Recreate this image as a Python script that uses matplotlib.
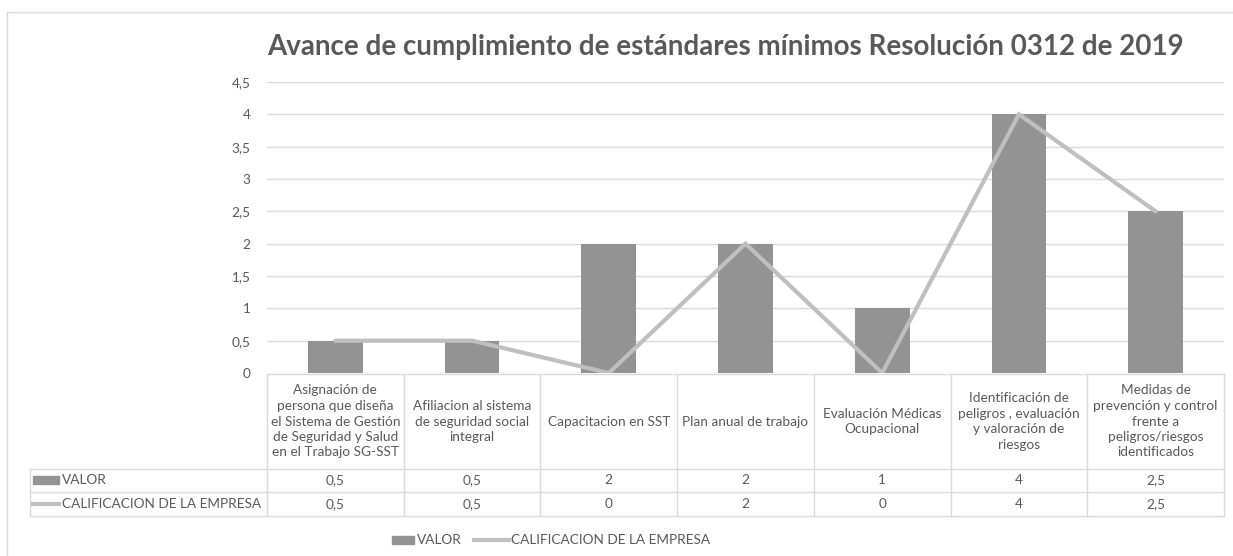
import numpy as np
import matplotlib.pyplot as plt
from matplotlib.lines import Line2D
from matplotlib.patches import Rectangle
from matplotlib.transforms import blended_transform_factory

plt.rcParams['font.family'] = ['Lato', 'DejaVu Sans']

# data
categorias = ["Asignación de\npersona que diseña\nel Sistema de Gestión\nde Seguridad y Salud\nen el Trabajo SG-SST",
              "Afiliacion al sistema\nde seguridad social\nintegral",
              "Capacitacion en SST",
              "Plan anual de trabajo",
              "Evaluación Médicas\nOcupacional",
              "Identificación de\npeligros , evaluación\ny valoración de\nriesgos",
              "Medidas de\nprevención y control\nfrente a\npeligros/riesgos\nidentificados"]
valor = [0.5, 0.5, 2, 2, 1, 4, 2.5]
calificacion = [0.5, 0.5, 0, 2, 0, 4, 2.5]
yticks = [0, 0.5, 1, 1.5, 2, 2.5, 3, 3.5, 4, 4.5]
serie_barras = "VALOR"
serie_linea = "CALIFICACION DE LA EMPRESA"
titulo = "Avance de cumplimiento de estándares mínimos Resolución 0312 de 2019"

W, H = 1233, 556
txt = '#595959'
gris_bar = '#939393'
gris_lin = '#BFBFBF'
borde = '#D9D9D9'
fs = 9.8

def fx(p):
    return p / W

def fy(p):
    return 1 - p / H

fig = plt.figure(figsize=(W / 100, H / 100), dpi=100)
ax = fig.add_axes([fx(267), fy(373), fx(1224) - fx(267), fy(82) - fy(373)])

x = np.arange(len(valor))
ax.bar(x, valor, width=0.4, color=gris_bar, zorder=2)
ax.plot(x, calificacion, color=gris_lin, lw=3, solid_capstyle='round',
        solid_joinstyle='miter', zorder=3)
ax.set_xlim(-0.5, len(valor) - 0.5)
ax.set_ylim(0, 4.5)
ax.set_yticks(yticks)
ax.set_yticklabels([("%g" % v).replace('.', ',') for v in yticks])
ax.tick_params(axis='y', length=0, pad=12, labelsize=fs, labelcolor=txt)
ax.set_xticks([])
ax.grid(axis='y', color=borde, lw=1, zorder=0)
for s in ax.spines.values():
    s.set_visible(False)

# titulo
fig.text(fx(725), fy(47), titulo, ha='center', va='center', fontsize=20,
         fontweight='bold', color=txt)

# tabla de datos
tr = blended_transform_factory(ax.transData, fig.transFigure)
n = len(valor)
y_top, y_cat, y_r1, y_r2 = 374, 469, 492, 516
kw = dict(color=borde, lw=1)
fig.add_artist(Line2D([fx(267), fx(1224)], [fy(y_top)] * 2, **kw))
for yy in (y_cat, y_r1, y_r2):
    fig.add_artist(Line2D([fx(30), fx(1224)], [fy(yy)] * 2, **kw))
fig.add_artist(Line2D([fx(30), fx(30)], [fy(y_cat), fy(y_r2)], **kw))
for b in np.arange(n + 1) - 0.5:
    fig.add_artist(Line2D([b, b], [fy(y_top), fy(y_r2)], transform=tr, **kw))

for i in range(n):
    fig.text(x[i], fy((y_top + y_cat) / 2), categorias[i], transform=tr,
             ha='center', va='center', fontsize=fs, color=txt, linespacing=1.35)
    fig.text(x[i], fy((y_cat + y_r1) / 2), ("%g" % valor[i]).replace('.', ','),
             transform=tr, ha='center', va='center', fontsize=fs, color=txt)
    fig.text(x[i], fy((y_r1 + y_r2) / 2), ("%g" % calificacion[i]).replace('.', ','),
             transform=tr, ha='center', va='center', fontsize=fs, color=txt)

# claves de la tabla
fig.add_artist(Rectangle((fx(33), fy(484)), fx(26), fy(476) - fy(484), color=gris_bar))
fig.text(fx(62), fy((y_cat + y_r1) / 2), serie_barras, ha='left', va='center',
         fontsize=fs, color=txt)
fig.add_artist(Line2D([fx(33), fx(59)], [fy(504)] * 2, color=gris_lin, lw=3))
fig.text(fx(62), fy((y_r1 + y_r2) / 2), serie_linea, ha='left', va='center',
         fontsize=fs, color=txt)

# leyenda
fig.add_artist(Rectangle((fx(392), fy(544)), fx(22), fy(536) - fy(544), color=gris_bar))
fig.text(fx(417), fy(540), serie_barras, ha='left', va='center', fontsize=fs, color=txt)
fig.add_artist(Line2D([fx(474), fx(509)], [fy(540)] * 2, color=gris_lin, lw=3))
fig.text(fx(511), fy(540), serie_linea, ha='left', va='center', fontsize=fs, color=txt)

# borde del grafico
fig.add_artist(Line2D([fx(7), fx(1233)], [fy(12)] * 2, color=borde, lw=1))
fig.add_artist(Line2D([fx(7), fx(7)], [fy(12), fy(556)], color=borde, lw=1))

fig.savefig('out.png', dpi=100)
